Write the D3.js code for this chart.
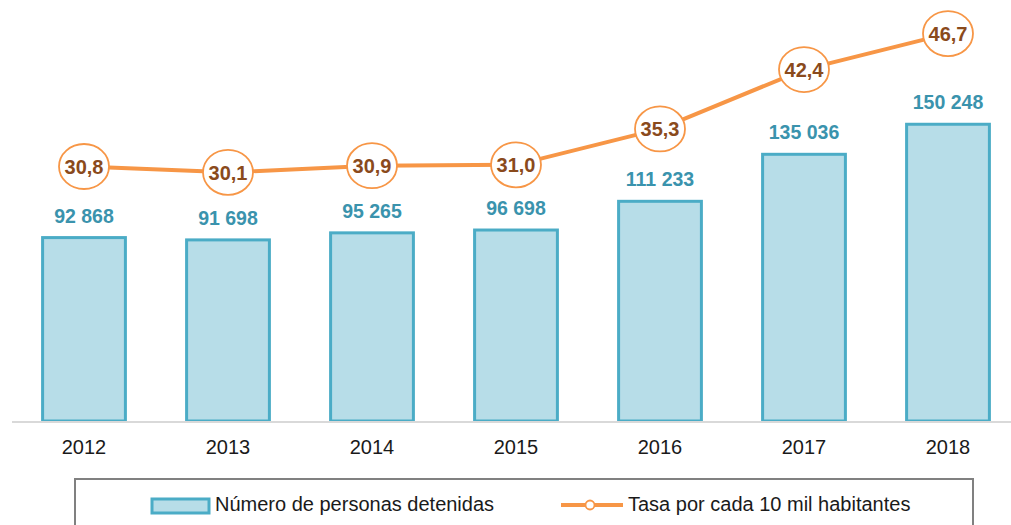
<!DOCTYPE html>
<html>
<head>
<meta charset="utf-8">
<script src="https://cdn.jsdelivr.net/npm/d3@7"></script>
<style>
  body { margin: 0; background: #fff; }
  svg { display: block; font-family: "Liberation Sans", Arial, sans-serif; }
</style>
</head>
<body>
<svg id="chart" width="1011" height="525"></svg>
<script>
const years = ["2012", "2013", "2014", "2015", "2016", "2017", "2018"];
const detenidos = [92868, 91698, 95265, 96698, 111233, 135036, 150248];
const tasa = [30.8, 30.1, 30.9, 31.0, 35.3, 42.4, 46.7];
const barLabels = ["92 868", "91 698", "95 265", "96 698", "111 233", "135 036", "150 248"];
const rateLabels = ["30,8", "30,1", "30,9", "31,0", "35,3", "42,4", "46,7"];
const legendLabels = ["Número de personas detenidas", "Tasa por cada 10 mil habitantes"];

const svg = d3.select("#chart");
const baseline = 421;

const x = d3.scaleBand()
    .domain(years)
    .range([12, 1020])
    .paddingInner(0.425)
    .paddingOuter(0.2125);

const yBar = d3.scaleLinear().domain([0, 160000]).range([baseline, 105]);
const yRate = d3.scaleLinear().domain([0, 50]).range([424, 6]);

// bars
svg.append("g").selectAll("rect")
    .data(detenidos)
    .join("rect")
    .attr("x", (d, i) => x(years[i]))
    .attr("y", d => yBar(d))
    .attr("width", x.bandwidth())
    .attr("height", d => baseline - yBar(d))
    .attr("fill", "#b7dde8")
    .attr("stroke", "#4bacc6")
    .attr("stroke-width", 3);

// axis line
svg.append("line")
    .attr("x1", 12).attr("x2", 1011)
    .attr("y1", baseline + 1).attr("y2", baseline + 1)
    .attr("stroke", "#d9d9d9")
    .attr("stroke-width", 2);

// year labels
svg.append("g").selectAll("text")
    .data(years)
    .join("text")
    .attr("x", d => x(d) + x.bandwidth() / 2)
    .attr("y", 454)
    .attr("text-anchor", "middle")
    .attr("font-size", 20)
    .attr("fill", "#1a1a1a")
    .text(d => d);

// bar value labels
svg.append("g").selectAll("text")
    .data(detenidos)
    .join("text")
    .attr("x", (d, i) => x(years[i]) + x.bandwidth() / 2)
    .attr("y", d => yBar(d) - 15)
    .attr("text-anchor", "middle")
    .attr("font-size", 19.5)
    .attr("font-weight", "bold")
    .attr("fill", "#3a93ad")
    .text((d, i) => barLabels[i]);

// rate line
const line = d3.line()
    .x((d, i) => x(years[i]) + x.bandwidth() / 2)
    .y(d => yRate(d));

svg.append("path")
    .datum(tasa)
    .attr("d", line)
    .attr("fill", "none")
    .attr("stroke", "#f79646")
    .attr("stroke-width", 4);

const marks = svg.append("g").selectAll("g")
    .data(tasa)
    .join("g")
    .attr("transform", (d, i) => `translate(${x(years[i]) + x.bandwidth() / 2},${yRate(d)})`);

marks.append("ellipse")
    .attr("rx", 25)
    .attr("ry", 22.5)
    .attr("fill", "#fff")
    .attr("stroke", "#f79646")
    .attr("stroke-width", 1.8);

marks.append("text")
    .attr("text-anchor", "middle")
    .attr("dy", "0.36em")
    .attr("font-size", 20)
    .attr("font-weight", "bold")
    .attr("fill", "#8a4a1c")
    .text((d, i) => rateLabels[i]);

// legend
const legend = svg.append("g");
legend.append("rect")
    .attr("x", 75).attr("y", 479)
    .attr("width", 898).attr("height", 60)
    .attr("fill", "none")
    .attr("stroke", "#808080")
    .attr("stroke-width", 2);

legend.append("rect")
    .attr("x", 152).attr("y", 499)
    .attr("width", 57).attr("height", 14)
    .attr("fill", "#b7dde8")
    .attr("stroke", "#4bacc6")
    .attr("stroke-width", 3);

legend.append("text")
    .attr("x", 215).attr("y", 511)
    .attr("font-size", 20)
    .attr("fill", "#1a1a1a")
    .text(legendLabels[0]);

legend.append("line")
    .attr("x1", 561).attr("x2", 623)
    .attr("y1", 505).attr("y2", 505)
    .attr("stroke", "#f79646")
    .attr("stroke-width", 4);

legend.append("circle")
    .attr("cx", 590).attr("cy", 505)
    .attr("r", 4.5)
    .attr("fill", "#fff")
    .attr("stroke", "#f79646")
    .attr("stroke-width", 1.8);

legend.append("text")
    .attr("x", 628).attr("y", 511)
    .attr("font-size", 20)
    .attr("fill", "#1a1a1a")
    .text(legendLabels[1]);
</script>
</body>
</html>
